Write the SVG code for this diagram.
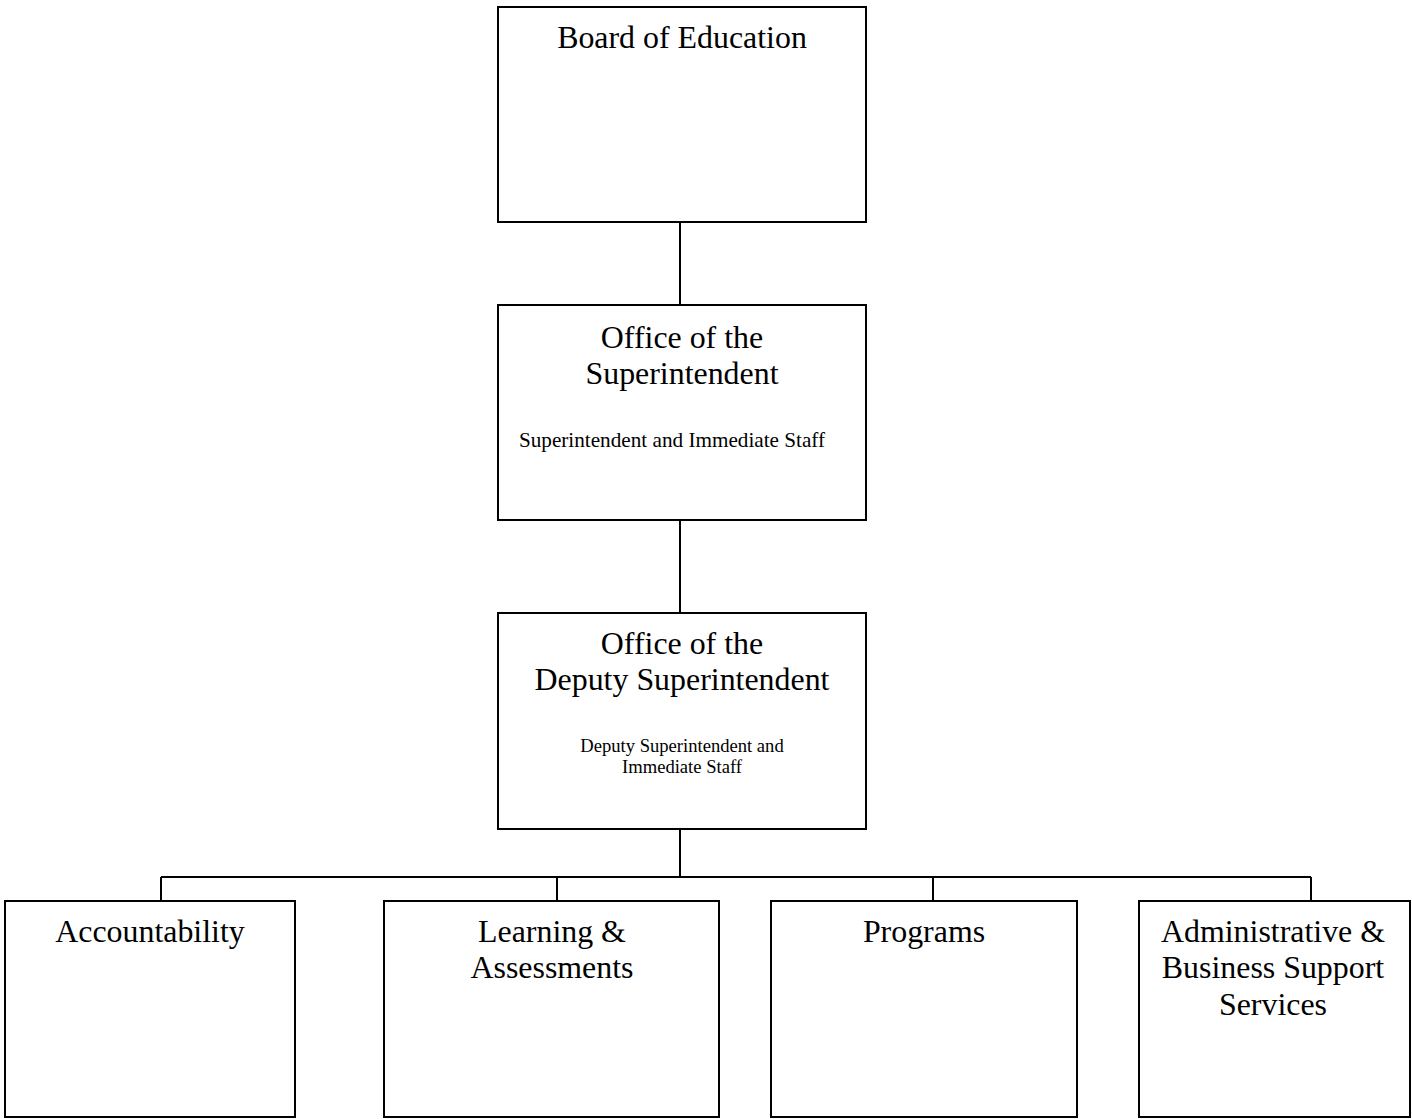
<svg xmlns="http://www.w3.org/2000/svg" width="1412" height="1119" viewBox="0 0 1412 1119">
<style>
.box{fill:#fff;stroke:#000;stroke-width:2}
.con{fill:none;stroke:#000;stroke-width:2}
text{font-family:"Liberation Serif","Times New Roman",serif;fill:#000;text-anchor:middle}
.t{font-size:31.9px}
.s2{font-size:21.2px}
.s3{font-size:18.6px}
</style>
<rect width="1412" height="1119" fill="#fff"/>
<g id="connectors">
<path class="con" d="M680 222V305M680 520V613M680 829V877M161 877H1311M161 877V901M557 877V901M933 877V901M1311 877V901"/>
</g>
<g id="board">
<rect class="box" x="498" y="7" width="368" height="215"/>
<text class="t" x="682" y="48">Board of Education</text>
</g>
<g id="superintendent">
<rect class="box" x="498" y="305" width="368" height="215"/>
<text class="t" x="682" y="348">Office of the</text>
<text class="t" x="682" y="384">Superintendent</text>
<text class="s2" x="672" y="447">Superintendent and Immediate Staff</text>
</g>
<g id="deputy">
<rect class="box" x="498" y="613" width="368" height="216"/>
<text class="t" x="682" y="654">Office of the</text>
<text class="t" x="682" y="690">Deputy Superintendent</text>
<text class="s3" x="682" y="752">Deputy Superintendent and</text>
<text class="s3" x="682" y="773">Immediate Staff</text>
</g>
<g id="accountability">
<rect class="box" x="5" y="901" width="290" height="216"/>
<text class="t" x="150" y="942">Accountability</text>
</g>
<g id="learning">
<rect class="box" x="384" y="901" width="335" height="216"/>
<text class="t" x="552" y="942">Learning &amp;</text>
<text class="t" x="552" y="978">Assessments</text>
</g>
<g id="programs">
<rect class="box" x="771" y="901" width="306" height="216"/>
<text class="t" x="924" y="942">Programs</text>
</g>
<g id="admin">
<rect class="box" x="1139" y="901" width="271" height="216"/>
<text class="t" x="1273" y="942">Administrative &amp;</text>
<text class="t" x="1273" y="978">Business Support</text>
<text class="t" x="1273" y="1015">Services</text>
</g>
</svg>
